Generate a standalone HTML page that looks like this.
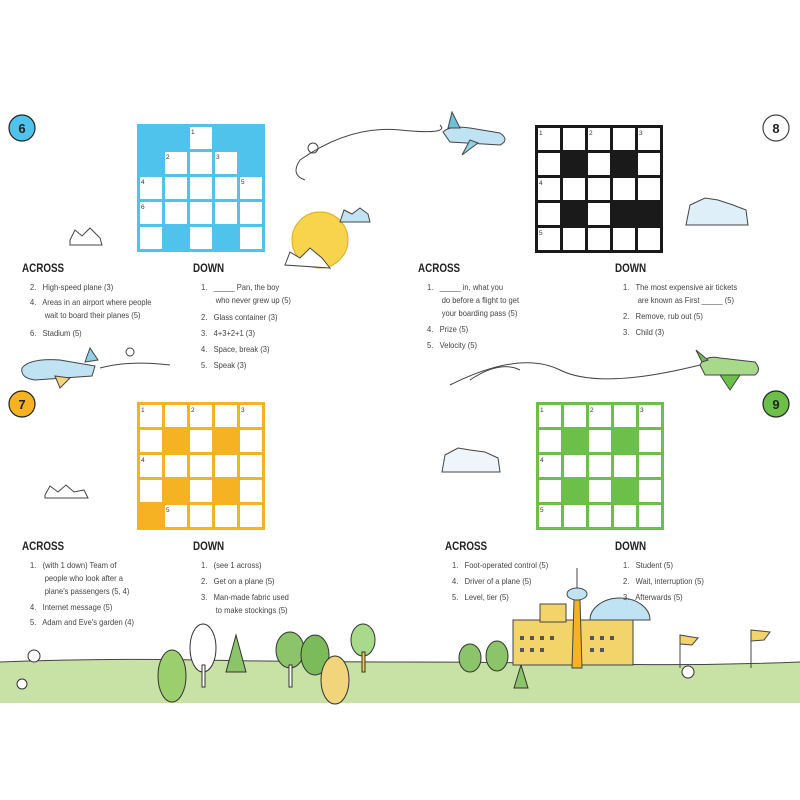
<!DOCTYPE html>
<html><head><meta charset="utf-8"><style>
body{margin:0;background:#fff;}
#w{position:relative;width:800px;height:800px;overflow:hidden;font-family:"Liberation Sans",sans-serif;color:#444;}
svg{position:absolute;left:0;top:0;}
.t{position:absolute;font-size:8.6px;line-height:13px;transform:scaleX(0.88);transform-origin:0 0;white-space:nowrap;color:#444;}
.h{position:absolute;font-size:12px;font-weight:bold;color:#222;transform:scaleX(0.82);transform-origin:0 0;}
</style></head><body><div id="w">
<svg width="800" height="800" viewBox="0 0 800 800">
<defs>
<pattern id="pb" patternUnits="userSpaceOnUse" x="140" y="127" width="25" height="25"><rect width="22" height="22" fill="#fff"/></pattern>
<pattern id="pk" patternUnits="userSpaceOnUse" x="538" y="128" width="25" height="25"><rect width="22" height="22" fill="#fff"/></pattern>
<pattern id="py" patternUnits="userSpaceOnUse" x="140" y="405" width="25" height="25"><rect width="22" height="22" fill="#fff"/></pattern>
<pattern id="pg" patternUnits="userSpaceOnUse" x="539" y="405" width="25" height="25"><rect width="22" height="22" fill="#fff"/></pattern>
</defs>
<path d="M0 662 Q100 658 200 660 T400 662 T600 664 T800 662 L800 703 L0 703Z" fill="#c8e2a6"/>
<path d="M0 662 Q100 658 200 660 T400 662 T600 664 T800 662" fill="none" stroke="#444" stroke-width="1"/>
<g stroke="#333" stroke-width="1">
<ellipse cx="172" cy="676" rx="14" ry="26" fill="#9bcf6e"/>
<ellipse cx="203" cy="648" rx="13" ry="24" fill="#fff"/>
<rect x="202" y="665" width="3" height="22" fill="#fff"/>
<polygon points="236,635 226,672 246,672" fill="#8cc46a"/>
<ellipse cx="290" cy="650" rx="14" ry="18" fill="#8cc46a"/>
<rect x="289" y="665" width="3" height="22" fill="#fff"/>
<ellipse cx="315" cy="655" rx="14" ry="20" fill="#7bbb5a"/>
<ellipse cx="335" cy="680" rx="14" ry="24" fill="#f2d57a"/>
<ellipse cx="363" cy="640" rx="12" ry="16" fill="#a9d98a"/>
<rect x="362" y="652" width="3" height="20" fill="#f5c84a"/>
<ellipse cx="470" cy="658" rx="11" ry="14" fill="#8cc46a"/>
<ellipse cx="497" cy="656" rx="11" ry="15" fill="#8cc46a"/>
<polygon points="521,665 514,688 528,688" fill="#8cc46a"/>
<circle cx="34" cy="656" r="6" fill="#fff"/><circle cx="22" cy="684" r="5" fill="#fff"/>
<circle cx="688" cy="672" r="6" fill="#fff"/>
</g>
<g stroke="#444" stroke-width="1">
<rect x="513" y="620" width="120" height="45" fill="#f3d46a"/>
<path d="M590 620 A30 22 0 0 1 650 620Z" fill="#bfe3f3"/>
<rect x="540" y="604" width="26" height="18" fill="#f3d46a"/>
<polygon points="572,668 582,668 580,600 574,600" fill="#f5b324"/>
<ellipse cx="577" cy="594" rx="10" ry="6" fill="#bfe3f3"/>
<line x1="577" y1="588" x2="577" y2="568"/>
<line x1="680" y1="635" x2="680" y2="668"/><polygon points="680,635 698,638 692,645 680,644" fill="#f3d46a"/>
<line x1="751" y1="630" x2="751" y2="668"/><polygon points="751,630 770,632 764,640 751,641" fill="#f3d46a"/>
</g>
<g fill="#555"><rect x="520" y="636" width="4" height="4"/><rect x="530" y="636" width="4" height="4"/><rect x="540" y="636" width="4" height="4"/><rect x="550" y="636" width="4" height="4"/><rect x="590" y="636" width="4" height="4"/><rect x="600" y="636" width="4" height="4"/><rect x="610" y="636" width="4" height="4"/><rect x="520" y="648" width="4" height="4"/><rect x="530" y="648" width="4" height="4"/><rect x="540" y="648" width="4" height="4"/><rect x="590" y="648" width="4" height="4"/><rect x="600" y="648" width="4" height="4"/></g>
<g fill="none" stroke="#444" stroke-width="1">
<path d="M300 160 Q350 125 400 130 T440 125"/><path d="M300 160 Q290 175 305 180"/><circle cx="313" cy="148" r="5"/>
<path d="M450 385 Q520 350 560 370 T700 365"/><path d="M470 380 Q500 360 520 370"/>
<path d="M100 368 Q130 360 170 365"/><circle cx="130" cy="352" r="4"/>
<path d="M70 240 L75 230 L82 236 L90 228 L100 238 L102 245 L70 245Z" fill="#fff"/>
<path d="M45 495 L50 486 L58 492 L66 485 L74 492 L84 490 L88 498 L45 498Z" fill="#fff"/>
</g>
<circle cx="320" cy="240" r="28" fill="#f8d44c" stroke="#e0a820"/>
<path d="M285 265 L290 252 L300 258 L310 248 L322 258 L330 268 Z" fill="#fff" stroke="#444"/>
<path d="M340 222 L344 210 L352 214 L360 208 L368 214 L370 222Z" fill="#bfe3f3" stroke="#444"/>
<path d="M686 225 L690 205 L705 198 L718 200 L733 205 L746 210 L748 225Z" fill="#dfeffa" stroke="#444"/>
<path d="M442 472 L445 455 L458 448 L470 450 L485 452 L498 458 L500 472Z" fill="#eef6fb" stroke="#444"/>
<g stroke="#444" stroke-width="1">
<path d="M443 132 Q450 125 470 128 L500 133 Q510 140 500 145 L450 142Z" fill="#bfe3f3"/>
<polygon points="448,128 452,112 460,128" fill="#6cc0d8"/><polygon points="470,140 462,155 478,143" fill="#8fd0e4"/>
<path d="M22 368 Q30 358 60 360 L95 366 L92 376 L35 380 Q20 378 22 368Z" fill="#bfe3f3"/>
<polygon points="85,362 90,348 98,360" fill="#8fd0e4"/><polygon points="55,376 60,388 70,378" fill="#f2d57a"/>
<path d="M700 365 Q705 355 720 358 L755 362 Q762 370 755 375 L705 375Z" fill="#a8d88a"/>
<polygon points="702,362 696,350 708,360" fill="#6cc04a"/><polygon points="720,375 730,390 740,375" fill="#6cc04a"/>
</g>
<circle cx="22" cy="128" r="13" fill="#4fc3ec" stroke="#222" stroke-width="1.2"/>
<circle cx="776" cy="128" r="13" fill="#fff" stroke="#444" stroke-width="1.2"/>
<circle cx="22" cy="404" r="13" fill="#f5b324" stroke="#222" stroke-width="1.2"/>
<circle cx="776" cy="404" r="13" fill="#6cc04a" stroke="#222" stroke-width="1.2"/>
<g font-family="Liberation Sans" font-weight="bold" font-size="13" fill="#222" text-anchor="middle">
<text x="22" y="133">6</text><text x="776" y="133">8</text><text x="22" y="409">7</text><text x="776" y="409">9</text></g>
<rect x="137" y="124" width="128" height="128" fill="#4fc3ec"/>
<rect x="140" y="127" width="122" height="122" fill="url(#pb)"/>
<g fill="#4fc3ec"><rect x="137" y="124" width="53" height="28"/><rect x="212" y="124" width="53" height="28"/><rect x="137" y="149" width="28" height="28"/><rect x="237" y="149" width="28" height="28"/><rect x="162" y="224" width="28" height="28"/><rect x="212" y="224" width="28" height="28"/></g>
<rect x="535" y="125" width="128" height="128" fill="#1a1a1a"/>
<rect x="538" y="128" width="122" height="122" fill="url(#pk)"/>
<g fill="#1a1a1a"><rect x="560" y="150" width="28" height="28"/><rect x="610" y="150" width="28" height="28"/><rect x="560" y="200" width="28" height="28"/><rect x="610" y="200" width="53" height="28"/></g>
<rect x="137" y="402" width="128" height="128" fill="#f5b324"/>
<rect x="140" y="405" width="122" height="122" fill="url(#py)"/>
<g fill="#f5b324"><rect x="162" y="427" width="28" height="28"/><rect x="212" y="427" width="28" height="28"/><rect x="162" y="477" width="28" height="28"/><rect x="212" y="477" width="28" height="28"/><rect x="137" y="502" width="28" height="28"/></g>
<rect x="536" y="402" width="128" height="128" fill="#6cc04a"/>
<rect x="539" y="405" width="122" height="122" fill="url(#pg)"/>
<g fill="#6cc04a"><rect x="561" y="427" width="28" height="28"/><rect x="611" y="427" width="28" height="28"/><rect x="561" y="477" width="28" height="28"/><rect x="611" y="477" width="28" height="28"/></g>
<g font-family="Liberation Sans" font-size="6.5" fill="#333">
<text x="191" y="134">1</text><text x="166" y="159">2</text><text x="216" y="159">3</text><text x="141" y="184">4</text><text x="241" y="184">5</text><text x="141" y="209">6</text>
<text x="539" y="135">1</text><text x="589" y="135">2</text><text x="639" y="135">3</text><text x="539" y="185">4</text><text x="539" y="235">5</text>
<text x="141" y="412">1</text><text x="191" y="412">2</text><text x="241" y="412">3</text><text x="141" y="462">4</text><text x="166" y="512">5</text>
<text x="540" y="412">1</text><text x="590" y="412">2</text><text x="640" y="412">3</text><text x="540" y="462">4</text><text x="540" y="512">5</text>
</g>
</svg>

<div class="h" style="left:22px;top:261px">ACROSS</div>
<div class="h" style="left:193px;top:261px">DOWN</div>
<div class="t" style="left:30px;top:281px">2.&nbsp;&nbsp; High-speed plane (3)</div>
<div class="t" style="left:30px;top:296px">4.&nbsp;&nbsp; Areas in an airport where people<br>&nbsp;&nbsp;&nbsp;&nbsp;&nbsp;&nbsp; wait to board their planes (5)</div>
<div class="t" style="left:30px;top:327px">6.&nbsp;&nbsp; Stadium (5)</div>
<div class="t" style="left:201px;top:281px">1.&nbsp;&nbsp; _____ Pan, the boy<br>&nbsp;&nbsp;&nbsp;&nbsp;&nbsp;&nbsp; who never grew up (5)</div>
<div class="t" style="left:201px;top:311px">2.&nbsp;&nbsp; Glass container (3)</div>
<div class="t" style="left:201px;top:327px">3.&nbsp;&nbsp; 4+3+2+1 (3)</div>
<div class="t" style="left:201px;top:343px">4.&nbsp;&nbsp; Space, break (3)</div>
<div class="t" style="left:201px;top:359px">5.&nbsp;&nbsp; Speak (3)</div>

<div class="h" style="left:418px;top:261px">ACROSS</div>
<div class="h" style="left:615px;top:261px">DOWN</div>
<div class="t" style="left:427px;top:281px">1.&nbsp;&nbsp; _____ in, what you<br>&nbsp;&nbsp;&nbsp;&nbsp;&nbsp;&nbsp; do before a flight to get<br>&nbsp;&nbsp;&nbsp;&nbsp;&nbsp;&nbsp; your boarding pass (5)</div>
<div class="t" style="left:427px;top:323px">4.&nbsp;&nbsp; Prize (5)</div>
<div class="t" style="left:427px;top:339px">5.&nbsp;&nbsp; Velocity (5)</div>
<div class="t" style="left:623px;top:281px">1.&nbsp;&nbsp; The most expensive air tickets<br>&nbsp;&nbsp;&nbsp;&nbsp;&nbsp;&nbsp; are known as First _____ (5)</div>
<div class="t" style="left:623px;top:310px">2.&nbsp;&nbsp; Remove, rub out (5)</div>
<div class="t" style="left:623px;top:326px">3.&nbsp;&nbsp; Child (3)</div>

<div class="h" style="left:22px;top:539px">ACROSS</div>
<div class="h" style="left:193px;top:539px">DOWN</div>
<div class="t" style="left:30px;top:559px">1.&nbsp;&nbsp; (with 1 down) Team of<br>&nbsp;&nbsp;&nbsp;&nbsp;&nbsp;&nbsp; people who look after a<br>&nbsp;&nbsp;&nbsp;&nbsp;&nbsp;&nbsp; plane's passengers (5, 4)</div>
<div class="t" style="left:30px;top:601px">4.&nbsp;&nbsp; Internet message (5)</div>
<div class="t" style="left:30px;top:616px">5.&nbsp;&nbsp; Adam and Eve's garden (4)</div>
<div class="t" style="left:201px;top:559px">1.&nbsp;&nbsp; (see 1 across)</div>
<div class="t" style="left:201px;top:575px">2.&nbsp;&nbsp; Get on a plane (5)</div>
<div class="t" style="left:201px;top:591px">3.&nbsp;&nbsp; Man-made fabric used<br>&nbsp;&nbsp;&nbsp;&nbsp;&nbsp;&nbsp; to make stockings (5)</div>

<div class="h" style="left:445px;top:539px">ACROSS</div>
<div class="h" style="left:615px;top:539px">DOWN</div>
<div class="t" style="left:452px;top:559px">1.&nbsp;&nbsp; Foot-operated control (5)</div>
<div class="t" style="left:452px;top:575px">4.&nbsp;&nbsp; Driver of a plane (5)</div>
<div class="t" style="left:452px;top:591px">5.&nbsp;&nbsp; Level, tier (5)</div>
<div class="t" style="left:623px;top:559px">1.&nbsp;&nbsp; Student (5)</div>
<div class="t" style="left:623px;top:575px">2.&nbsp;&nbsp; Wait, interruption (5)</div>
<div class="t" style="left:623px;top:591px">3.&nbsp;&nbsp; Afterwards (5)</div>
</div></body></html>
